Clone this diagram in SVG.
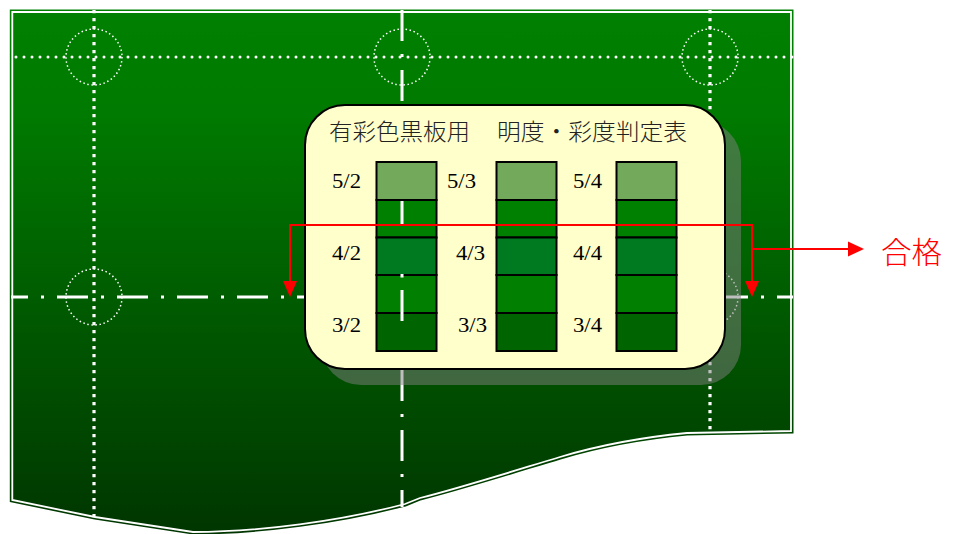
<svg xmlns="http://www.w3.org/2000/svg" width="959" height="534" viewBox="0 0 959 534">
  <defs>
    <linearGradient id="sheetGrad" gradientUnits="userSpaceOnUse" x1="0" y1="10" x2="0" y2="532">
      <stop offset="0" stop-color="#008000"/>
      <stop offset="0.2" stop-color="#007a00"/>
      <stop offset="1" stop-color="#003600"/>
    </linearGradient>
    <style>
      .dotsq { fill: none; stroke: #ffffff; stroke-width: 3.2; stroke-dasharray: 3.2 4.8; }
      .dotrd { fill: none; stroke: #ffffff; stroke-width: 3; stroke-dasharray: 0 8; stroke-linecap: round; }
      .dashdot { fill: none; stroke: #ffffff; stroke-width: 3; stroke-dasharray: 31 13 3 13; }
      .circ { fill: none; stroke: #ffffff; stroke-width: 1.5; stroke-dasharray: 1.5 2.6; }
      .cell { stroke: #000000; stroke-width: 2; }
      .c1 { fill: #72a95a; }
      .c2 { fill: #008000; }
      .c3 { fill: #007a20; }
      .c4 { fill: #007f00; }
      .c5 { fill: #006400; }
      .lbl { font-family: "Liberation Serif", "DejaVu Serif", serif; font-size: 20px; fill: #000000; }
      .title { font-family: "Noto Sans CJK JP", sans-serif; font-size: 23px; font-weight: 300; fill: #222222; }
      .red { fill: none; stroke: #ff0000; stroke-width: 2; }
    </style>
  </defs>

  <g id="sheet">
    <path id="sheetShape" d="M12.3,12 L791,12 L791,431 L687,433 C645,437 600,445 560,457 C520,469 460,488 420,498 L405,504 C340,521 260,532 193,532 L95,517 L12.3,500 Z" fill="url(#sheetGrad)" stroke="url(#sheetGrad)" stroke-width="5" stroke-linejoin="miter"/>
    <path d="M12.3,12 L791,12 L791,431 L687,433 C645,437 600,445 560,457 C520,469 460,488 420,498 L405,504 C340,521 260,532 193,532 L95,517 L12.3,500 Z" fill="none" stroke="#ffffff" stroke-width="1.8"/>
  </g>

  <g id="guides">
    <line class="dotrd" x1="16" y1="57" x2="793" y2="57"/>
    <line class="dotsq" x1="94" y1="10" x2="94" y2="518"/>
    <line class="dotsq" x1="710" y1="10" x2="710" y2="434"/>
    <line class="dashdot" x1="11" y1="297" x2="793" y2="297" stroke-dashoffset="14"/>
    <line class="dashdot" x1="402" y1="10" x2="402" y2="507"/>
    <circle class="circ" cx="94" cy="57" r="28"/>
    <circle class="circ" cx="402" cy="57" r="28"/>
    <circle class="circ" cx="710" cy="57" r="28"/>
    <circle class="circ" cx="94" cy="297" r="28"/>
    <circle class="circ" cx="710" cy="297" r="28"/>
  </g>

  <g id="panel">
    <rect x="321" y="121" width="420" height="264" rx="40" ry="40" fill="#808080" fill-opacity="0.5"/>
    <rect x="305" y="105" width="420" height="264" rx="40" ry="40" fill="#ffffcc" stroke="#000000" stroke-width="2"/>
    <text class="title" x="329" y="140" textLength="141" lengthAdjust="spacingAndGlyphs">有彩色黒板用</text>
    <text class="title" x="497" y="140" textLength="190" lengthAdjust="spacingAndGlyphs">明度・彩度判定表</text>
  </g>

  <g id="column-2">
    <rect class="cell c1" x="376.5" y="162" width="60" height="38"/>
    <rect class="cell c2" x="376.5" y="200" width="60" height="37.5"/>
    <rect class="cell c3" x="376.5" y="237.5" width="60" height="37.5"/>
    <rect class="cell c4" x="376.5" y="275" width="60" height="38"/>
    <rect class="cell c5" x="376.5" y="313" width="60" height="38"/>
    <line x1="402" y1="201" x2="402" y2="226" stroke="#ffffff" stroke-width="3"/>
    <rect x="400.5" y="274" width="3" height="3.5" fill="#ffffff"/>
    <line x1="402" y1="290" x2="402" y2="321" stroke="#ffffff" stroke-width="3"/>
    <text class="lbl" x="332" y="188" textLength="29" lengthAdjust="spacingAndGlyphs">5/2</text>
    <text class="lbl" x="332" y="260" textLength="29" lengthAdjust="spacingAndGlyphs">4/2</text>
    <text class="lbl" x="332" y="332" textLength="29" lengthAdjust="spacingAndGlyphs">3/2</text>
  </g>

  <g id="column-3">
    <rect class="cell c1" x="496.5" y="162" width="60" height="38"/>
    <rect class="cell c2" x="496.5" y="200" width="60" height="37.5"/>
    <rect class="cell c3" x="496.5" y="237.5" width="60" height="37.5"/>
    <rect class="cell c4" x="496.5" y="275" width="60" height="38"/>
    <rect class="cell c5" x="496.5" y="313" width="60" height="38"/>
    <text class="lbl" x="447" y="188" textLength="29" lengthAdjust="spacingAndGlyphs">5/3</text>
    <text class="lbl" x="456" y="260" textLength="29" lengthAdjust="spacingAndGlyphs">4/3</text>
    <text class="lbl" x="458" y="332" textLength="29" lengthAdjust="spacingAndGlyphs">3/3</text>
  </g>

  <g id="column-4">
    <rect class="cell c1" x="616.5" y="162" width="60" height="38"/>
    <rect class="cell c2" x="616.5" y="200" width="60" height="37.5"/>
    <rect class="cell c3" x="616.5" y="237.5" width="60" height="37.5"/>
    <rect class="cell c4" x="616.5" y="275" width="60" height="38"/>
    <rect class="cell c5" x="616.5" y="313" width="60" height="38"/>
    <text class="lbl" x="573" y="188" textLength="29" lengthAdjust="spacingAndGlyphs">5/4</text>
    <text class="lbl" x="573" y="260" textLength="29" lengthAdjust="spacingAndGlyphs">4/4</text>
    <text class="lbl" x="573" y="332" textLength="29" lengthAdjust="spacingAndGlyphs">3/4</text>
  </g>

  <g id="connectors">
    <path class="red" d="M752,225 L290,225 L290,289" />
    <path d="M283,281 L297,281 L290,297 z" fill="#ff0000"/>
    <path class="red" d="M290,225 L752,225 L752,289"/>
    <path d="M745,281 L759,281 L752,297 z" fill="#ff0000"/>
    <path class="red" d="M752,249 L850,249"/>
    <path d="M848,241.5 L864,249 L848,256.5 z" fill="#ff0000"/>
  </g>

  <g id="result">
    <text x="881" y="263" font-family="Noto Sans CJK JP, sans-serif" font-size="30" font-weight="300" fill="#ff0000" textLength="61" lengthAdjust="spacingAndGlyphs">合格</text>
  </g>
</svg>
